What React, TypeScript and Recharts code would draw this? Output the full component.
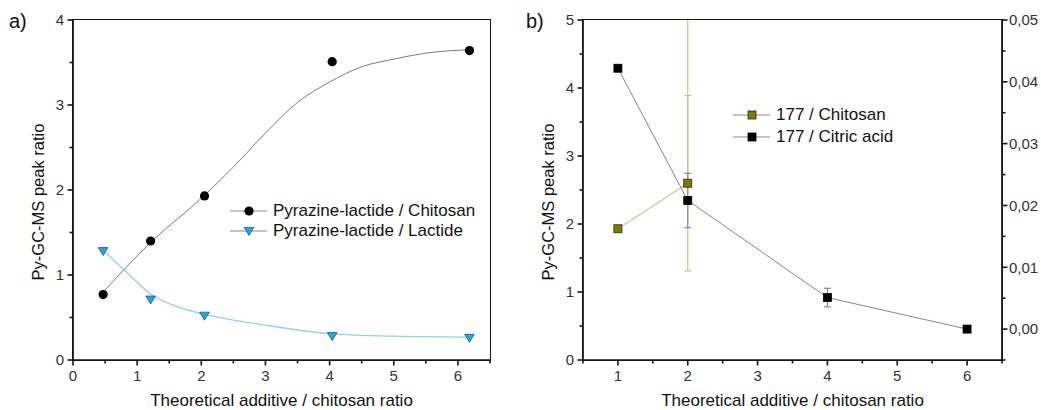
import { ComposedChart, Line, Scatter, XAxis, YAxis, ErrorBar, Legend, Label } from 'recharts';

const FONT = '"Liberation Sans", Arial, sans-serif';
const AXIS = '#151515';
const TICK_TXT = '#333333';

// ---- panel a) ----
const aPointX = [0.47, 1.21, 2.05, 4.04, 6.18];
const aChitosan = [0.77, 1.4, 1.93, 3.51, 3.64];
const aLactide = [1.28, 0.71, 0.52, 0.28, 0.26];

// fitted curves
const aChitosanFitX = [0.47, 1.22, 2.04, 2.5, 3.0, 3.5, 4.0, 4.5, 5.0, 5.5, 6.17];
const aChitosanFit = [0.8, 1.39, 1.93, 2.27, 2.67, 3.03, 3.27, 3.45, 3.54, 3.61, 3.65];
const aLactideFitX = [0.47, 0.84, 1.22, 1.61, 2.04, 3.0, 4.0, 5.0, 6.17];
const aLactideFit = [1.29, 1.03, 0.77, 0.63, 0.54, 0.41, 0.31, 0.28, 0.27];

const aXDomain = [0, 6.5];
const aYDomain = [0, 4];
const aXTicks = [0, 0.5, 1, 1.5, 2, 2.5, 3, 3.5, 4, 4.5, 5, 5.5, 6, 6.5];
const aYTicks = [0, 0.5, 1, 1.5, 2, 2.5, 3, 3.5, 4];
const aNames = ['Pyrazine-lactide / Chitosan', 'Pyrazine-lactide / Lactide'];

// ---- panel b) ----
const bChitosanX = [1, 2];
const bChitosan = [1.93, 2.6];
const bChitosanErr = [0, 1.29];
const bChitosanErrUp = [0, 2.4];
const bCitricX = [1, 2, 4, 6];
const bCitric = [0.0422, 0.0208, 0.0051, 0.0];
const bCitricErr = [0, 0.0044, 0.0015, 0];

const bXDomain = [0.5, 6.5];
const bYDomain = [0, 5];
const bY2Domain = [-0.005, 0.05];
const bXTicks = [0.5, 1, 1.5, 2, 2.5, 3, 3.5, 4, 4.5, 5, 5.5, 6, 6.5];
const bYTicks = [0, 0.5, 1, 1.5, 2, 2.5, 3, 3.5, 4, 4.5, 5];
const bY2Ticks = [-0.005, 0, 0.005, 0.01, 0.015, 0.02, 0.025, 0.03, 0.035, 0.04, 0.045, 0.05];
const bNames = ['177 / Chitosan', '177 / Citric acid'];

const zip = (xs: number[], ys: number[]) => xs.map((x, i) => ({ x, y: ys[i] }));

const aChitPts = zip(aPointX, aChitosan);
const aLactPts = zip(aPointX, aLactide);
const aChitFitData = zip(aChitosanFitX, aChitosanFit);
const aLactFitData = zip(aLactideFitX, aLactideFit);

const bChitData = bChitosanX.map((x, i) => ({ x, y: bChitosan[i], err: bChitosanErr[i], errUp: [0, bChitosanErrUp[i]] }));
const bCitData = bCitricX.map((x, i) => ({ x, y: bCitric[i], err: bCitricErr[i] }));

const axisLine = { stroke: AXIS, strokeWidth: 1.7 };

const isMajor = (v: number) => Math.abs(v - Math.round(v)) < 1e-9;

const BottomTick = (props: any) => {
  const { x, y, payload } = props;
  const v = payload.value;
  const major = isMajor(v);
  return (
    <g>
      <path d={`M${x},${y}V${y + (major ? 5.5 : 3.5)}`} stroke={AXIS} strokeWidth={1.6} fill="none" />
      {major && (
        <text x={x} y={y + 21} textAnchor="middle" fontSize={15} fontFamily={FONT} fill={TICK_TXT} stroke="none">
          {v}
        </text>
      )}
    </g>
  );
};

const LeftTick = (props: any) => {
  const { x, y, payload } = props;
  const v = payload.value;
  const major = isMajor(v);
  return (
    <g>
      <path d={`M${x},${y}H${x - (major ? 5.5 : 3.5)}`} stroke={AXIS} strokeWidth={1.6} fill="none" />
      {major && (
        <text x={x - 9} y={y} dy="0.36em" textAnchor="end" fontSize={15} fontFamily={FONT} fill={TICK_TXT} stroke="none">
          {v}
        </text>
      )}
    </g>
  );
};

const RightTick = (props: any) => {
  const { x, y, payload } = props;
  const v = payload.value;
  const major = Math.round(v * 1000) % 10 === 0;
  return (
    <g>
      <path d={`M${x},${y}H${x + (major ? 5.5 : 3.5)}`} stroke={AXIS} strokeWidth={1.6} fill="none" />
      {major && (
        <text x={x + 7} y={y} dy="0.36em" textAnchor="start" fontSize={15} fontFamily={FONT} fill={TICK_TXT} stroke="none">
          {v.toFixed(2).replace('.', ',')}
        </text>
      )}
    </g>
  );
};

const XTitle = (props: any) => {
  const vb = props.viewBox;
  return (
    <text x={vb.x + vb.width / 2} y={vb.y + 46} textAnchor="middle" fontSize={17} fontFamily={FONT} fill="#111">
      Theoretical additive / chitosan ratio
    </text>
  );
};

const YTitle = (props: any) => {
  const vb = props.viewBox;
  const cx = vb.x + vb.width - 35;
  const cy = vb.y + vb.height / 2 + 12;
  return (
    <text
      x={cx}
      y={cy}
      transform={`rotate(-90 ${cx} ${cy})`}
      textAnchor="middle"
      dy="0.36em"
      fontSize={16.5}
      fontFamily={FONT}
      fill="#111"
    >
      Py-GC-MS peak ratio
    </text>
  );
};

const Dot = (p: any) => <circle cx={p.cx} cy={p.cy} r={4.6} fill="#000" />;
const TriDown = (p: any) => {
  const { cx, cy } = p;
  return (
    <path
      d={`M${cx - 4.8},${cy - 3.6}L${cx + 4.8},${cy - 3.6}L${cx},${cy + 4.4}Z`}
      fill="#2aa6dd"
      stroke="#19587a"
      strokeWidth={0.8}
    />
  );
};
const Square = (fill: string, stroke: string) => (p: any) => (
  <rect key={`sq-${p.index}`} x={p.cx - 4} y={p.cy - 4} width={8} height={8} fill={fill} stroke={stroke} strokeWidth={0.8} />
);
const oliveSquare = Square('#7d7a08', '#2e2c00');
const blackSquare = Square('#000', '#000');

const LegendBox = ({ names, markers, rowH }: { names: string[]; markers: ((cx: number, cy: number) => any)[]; rowH: number }) => (
  <div style={{ fontFamily: FONT, fontSize: 17, color: '#111', whiteSpace: 'nowrap' }}>
    {names.map((n, i) => (
      <div key={n} style={{ display: 'flex', alignItems: 'center', height: rowH }}>
        <svg width={40} height={rowH} style={{ display: 'block' }}>
          <line x1={0} x2={37} y1={rowH / 2} y2={rowH / 2} stroke="#8a8a8a" strokeWidth={1} />
          {markers[i](19, rowH / 2)}
        </svg>
        <span style={{ marginLeft: 3, lineHeight: `${rowH}px` }}>{n}</span>
      </div>
    ))}
  </div>
);

// plot frame drawn on top of the plot area
const Frame = ({ left, top, width, height }: { left: number; top: number; width: number; height: number }) => (
  <div
    style={{
      position: 'absolute',
      left: left - 0.85,
      top: top - 0.85,
      width: width + 1.7,
      height: height + 1.7,
      border: `1.7px solid ${AXIS}`,
      boxSizing: 'border-box',
      pointerEvents: 'none',
    }}
  />
);

const PanelA = () => (
  <ComposedChart width={520} height={410} margin={{ top: 20, right: 30, bottom: 0, left: 0 }}>
    <XAxis
      dataKey="x"
      type="number"
      domain={aXDomain}
      ticks={aXTicks}
      interval={0}
      allowDataOverflow
      height={50}
      tickSize={0}
      tickMargin={0}
      tickLine={false}
      tick={<BottomTick />}
      axisLine={axisLine}
    >
      <Label content={XTitle} />
    </XAxis>
    <YAxis
      dataKey="y"
      type="number"
      domain={aYDomain}
      ticks={aYTicks}
      interval={0}
      allowDataOverflow
      width={73}
      tickSize={0}
      tickMargin={0}
      tickLine={false}
      tick={<LeftTick />}
      axisLine={axisLine}
    >
      <Label content={YTitle} />
    </YAxis>
    <Line data={aChitFitData} dataKey="y" type="monotone" stroke="#7a7a7a" strokeWidth={1} dot={false} activeDot={false} isAnimationActive={false} />
    <Line data={aLactFitData} dataKey="y" type="monotone" stroke="#92d2e8" strokeWidth={1.3} dot={false} activeDot={false} isAnimationActive={false} />
    <Scatter data={aChitPts} dataKey="y" shape={Dot} isAnimationActive={false} />
    <Scatter data={aLactPts} dataKey="y" shape={TriDown} isAnimationActive={false} />
    <Legend
      layout="vertical"
      align="center"
      verticalAlign="middle"
      wrapperStyle={{ left: 230, top: 201, width: 'auto' }}
      content={() => (
        <LegendBox
          names={aNames}
          rowH={20}
          markers={[(cx, cy) => <Dot cx={cx} cy={cy} />, (cx, cy) => <TriDown cx={cx} cy={cy} />]}
        />
      )}
    />
  </ComposedChart>
);

const PanelB = () => (
  <ComposedChart width={521} height={410} margin={{ top: 20, right: 0, bottom: 0, left: 0 }}>
    <XAxis
      dataKey="x"
      type="number"
      domain={bXDomain}
      ticks={bXTicks}
      interval={0}
      allowDataOverflow
      height={50}
      tickSize={0}
      tickMargin={0}
      tickLine={false}
      tick={<BottomTick />}
      axisLine={axisLine}
    >
      <Label content={XTitle} />
    </XAxis>
    <YAxis
      yAxisId="left"
      type="number"
      domain={bYDomain}
      ticks={bYTicks}
      interval={0}
      allowDataOverflow
      width={63}
      tickSize={0}
      tickMargin={0}
      tickLine={false}
      tick={<LeftTick />}
      axisLine={axisLine}
    >
      <Label content={YTitle} />
    </YAxis>
    <YAxis
      yAxisId="right"
      orientation="right"
      type="number"
      domain={bY2Domain}
      ticks={bY2Ticks}
      interval={0}
      allowDataOverflow
      width={39}
      tickSize={0}
      tickMargin={0}
      tickLine={false}
      tick={<RightTick />}
      axisLine={axisLine}
    />
    <Line
      yAxisId="left"
      data={bChitData}
      dataKey="y"
      type="linear"
      stroke="#cbc596"
      strokeWidth={1.2}
      dot={oliveSquare}
      activeDot={false}
      isAnimationActive={false}
    >
      <ErrorBar dataKey="errUp" direction="y" width={0} stroke="#c8c18c" strokeWidth={1.2} />
      <ErrorBar dataKey="err" direction="y" width={3.5} stroke="#c8c18c" strokeWidth={1.2} />
    </Line>
    <Line
      yAxisId="right"
      data={bCitData}
      dataKey="y"
      type="linear"
      stroke="#858585"
      strokeWidth={1}
      dot={blackSquare}
      activeDot={false}
      isAnimationActive={false}
    >
      <ErrorBar dataKey="err" direction="y" width={3.5} stroke="#8a8a8a" strokeWidth={1.2} />
    </Line>
    <Legend
      layout="vertical"
      align="center"
      verticalAlign="middle"
      wrapperStyle={{ left: 213, top: 104, width: 'auto' }}
      content={() => (
        <LegendBox
          names={bNames}
          rowH={22}
          markers={[(cx, cy) => oliveSquare({ cx, cy, index: 0 }), (cx, cy) => blackSquare({ cx, cy, index: 1 })]}
        />
      )}
    />
  </ComposedChart>
);

const App = () => (
  <div style={{ position: 'absolute', left: 0, top: 0, width: 1041, height: 410, background: '#fff', fontFamily: FONT }}>
    <div style={{ position: 'absolute', left: 0, top: 0 }}>
      <PanelA />
    </div>
    <div style={{ position: 'absolute', left: 520, top: 0 }}>
      <PanelB />
    </div>
    <Frame left={73} top={20} width={417} height={340} />
    <Frame left={583} top={20} width={419} height={340} />
    <div style={{ position: 'absolute', left: 9, top: 10, fontSize: 20, color: '#111' }}>a)</div>
    <div style={{ position: 'absolute', left: 526, top: 10, fontSize: 20, color: '#111' }}>b)</div>
  </div>
);

export default App;
